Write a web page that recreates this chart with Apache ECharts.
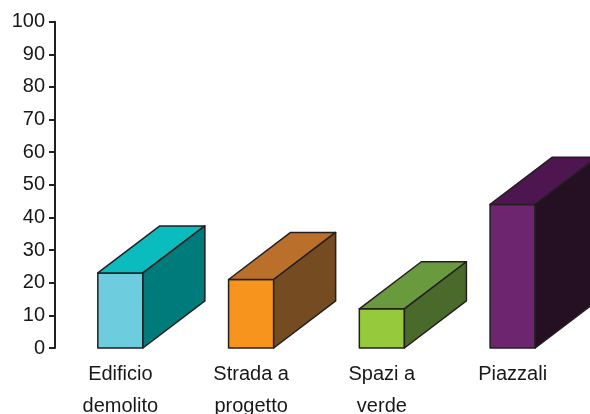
<!DOCTYPE html>
<html>
<head>
<meta charset="utf-8">
<script src="https://cdn.jsdelivr.net/npm/echarts@6/dist/echarts.min.js"></script>
<style>html,body{margin:0;padding:0;background:#fff;}#c{width:590px;height:414px;}</style>
</head>
<body>
<div id="c"></div>
<script>
const categories = ['Edificio\ndemolito', 'Strada a\nprogetto', 'Spazi a\nverde', 'Piazzali'];
const values = [23, 21, 12, 44];
const yTicks = { min: 0, max: 100, interval: 10 };

const palette = [
  { front: '#6DCCDD', top: '#0ABCBE', side: '#007B7B' },
  { front: '#F7941D', top: '#BA6F2A', side: '#754C21' },
  { front: '#97C93D', top: '#6A9A3E', side: '#4A6A2B' },
  { front: '#6E2570', top: '#4E1651', side: '#251023' }
];
const stroke = '#231F20';

const chart = echarts.init(document.getElementById('c'));
chart.setOption({
  animation: false,
  grid: { left: 55, right: 12, top: 21.7, bottom: 66, containLabel: false, outerBoundsMode: 'none' },
  xAxis: {
    type: 'category',
    data: categories,
    axisLine: { show: false },
    axisTick: { show: false },
    axisLabel: { fontSize: 20, lineHeight: 32, margin: 10, color: '#1a1718', fontFamily: 'Liberation Sans, Arial, sans-serif' }
  },
  yAxis: {
    type: 'value',
    min: yTicks.min, max: yTicks.max, interval: yTicks.interval,
    axisLine: { show: true, lineStyle: { color: stroke, width: 2 } },
    axisTick: { show: true, length: 6, lineStyle: { color: stroke, width: 2 } },
    splitLine: { show: false },
    axisLabel: { fontSize: 20, margin: 10, color: '#1a1718', fontFamily: 'Liberation Sans, Arial, sans-serif' }
  },
  series: [{
    type: 'custom',
    clip: false,
    data: values.map((v, i) => [i, v]),
    renderItem: function (params, api) {
      const idx = api.value(0);
      const top = api.coord([idx, api.value(1)]);
      const base = api.coord([idx, 0]);
      const band = api.size([1, 0])[0];
      const w = band * 0.345;
      const dx = band * 0.474;
      const dy = -band * 0.36;
      const x0 = top[0] - w / 2, x1 = top[0] + w / 2;
      const yt = top[1], yb = base[1];
      const c = palette[idx % palette.length];
      const ls = { stroke: stroke, lineWidth: 1.5, lineJoin: 'round' };
      return {
        type: 'group',
        children: [
          { type: 'polygon', shape: { points: [[x0, yb], [x1, yb], [x1, yt], [x0, yt]] }, style: Object.assign({ fill: c.front }, ls) },
          { type: 'polygon', shape: { points: [[x0, yt], [x1, yt], [x1 + dx, yt + dy], [x0 + dx, yt + dy]] }, style: Object.assign({ fill: c.top }, ls) },
          { type: 'polygon', shape: { points: [[x1, yb], [x1 + dx, yb + dy], [x1 + dx, yt + dy], [x1, yt]] }, style: Object.assign({ fill: c.side }, ls) }
        ]
      };
    }
  }]
});
</script>
</body>
</html>
